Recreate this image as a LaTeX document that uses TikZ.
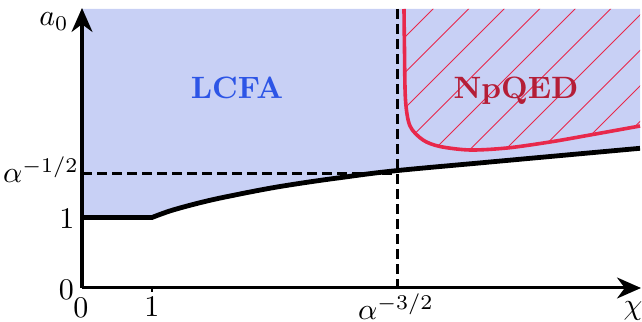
\documentclass[tikz,border=0pt]{standalone}
\usetikzlibrary{arrows.meta}
\definecolor{fillblue}{RGB}{200,208,245}
\definecolor{lcfablue}{RGB}{45,85,230}
\definecolor{npqedred}{RGB}{180,30,55}
\definecolor{curvered}{RGB}{232,40,75}
\begin{document}
\begin{tikzpicture}[x=0.3333pt,y=-0.3333pt,
  axis/.style={line width=1pt,-{Stealth[length=8pt,width=7pt,inset=2.6pt]}},
  dashline/.style={line width=1pt,dash pattern=on 3.2pt off 1.8pt},
  bound/.style={line width=1.6pt},
  redbound/.style={line width=1.2pt,curvered},
  hatch/.style={line width=0.35pt,curvered},
  lbl/.style={anchor=base,inner sep=0pt},
  region/.style={anchor=base,inner sep=0pt,font=\fontsize{10.3}{12}\selectfont\bfseries}]
\useasboundingbox (0,0) rectangle (642,322);
% shaded region
\fill[fillblue] (82,217.5) -- plot[smooth,tension=0.6] coordinates {(152,217.5) (173,210) (207,201) (240,194) (273,187.7) (307,182.3) (340,177.7) (393,171) (490,162) (640,148.3)} -- (640,9) -- (82,9) -- cycle;
% hatching
\begin{scope}
\clip plot[smooth,tension=0.5] coordinates {(404,9) (404.5,50) (405.5,100) (410,126) (423,140) (440,146.5) (470,150) (507,148) (550,142) (590,135) (640,126)} -- (640,9) -- cycle;
\foreach \c in {371,406.5,...,1000} \draw[hatch] (\c,0) -- ({\c-330},330);
\end{scope}
\draw[redbound] plot[smooth,tension=0.5] coordinates {(404,9) (404.5,50) (405.5,100) (410,126) (423,140) (440,146.5) (470,150) (507,148) (550,142) (590,135) (640,126)};
% dashed guides
\coordinate (vtop) at (397,9);
\coordinate (vbot) at (397,288);
\coordinate (hleft) at (82,173.3);
\coordinate (hright) at (397,173.3);
\draw[dashline] (vtop) -- (vbot);
\draw[dashline] (hleft) -- (hright);
% boundary curve
\draw[bound] (82,217.5) -- plot[smooth,tension=0.6] coordinates {(152,217.5) (173,210) (207,201) (240,194) (273,187.7) (307,182.3) (340,177.7) (393,171) (490,162) (640,148.3)};
% axes
\coordinate (O) at (82,288);
\coordinate (ytip) at (82,8);
\coordinate (xtip) at (641,288);
\draw[axis] (O) -- (ytip);
\draw[axis] (O) -- (xtip);
\draw[line width=0.4pt] (152,288) -- (152,292);
% labels
\node[lbl] (a0) at (54,26) {$a_0$};
\node[lbl] (y0) at (66.5,299.5) {$0$};
\node[lbl] (y1) at (67,229) {$1$};
\node[lbl] (yal) at (41,183) {$\alpha^{-1/2}$};
\node[lbl] (x0) at (81,318) {$0$};
\node[lbl] (x1) at (152,316.7) {$1$};
\node[lbl] (xal) at (396,320) {$\alpha^{-3/2}$};
\node[lbl] (chi) at (633,315) {$\chi$};
\node[region,text=lcfablue] (lcfa) at (237,99) {LCFA};
\node[region,text=npqedred] (npqed) at (516,99) {NpQED};
\end{tikzpicture}
\end{document}
